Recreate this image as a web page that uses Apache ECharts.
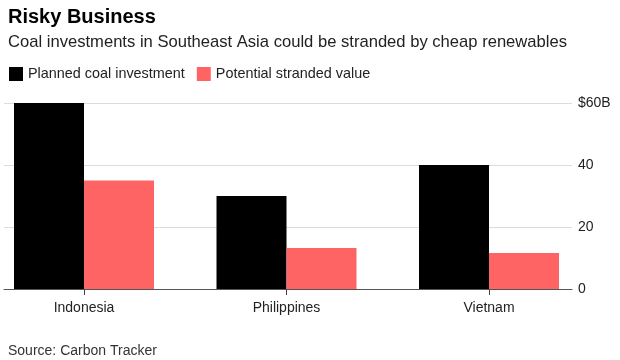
<!DOCTYPE html>
<html><head><meta charset="utf-8">
<script src="https://cdn.jsdelivr.net/npm/echarts@6/dist/echarts.min.js"></script>
<style>html,body{margin:0;padding:0;background:#fff}#c{width:620px;height:360px}</style>
</head><body><div id="c"></div>
<script>
const categories = ['Indonesia', 'Philippines', 'Vietnam'];
const plannedCoal = [60, 30, 40];
const strandedValue = [35, 13.2, 11.6];
const seriesNames = ['Planned coal investment', 'Potential stranded value'];
const yTicks = [0, 20, 40, 60];

const chart = echarts.init(document.getElementById('c'), null, {renderer: 'canvas'});
const font = '"Liberation Sans", Arial, sans-serif';
chart.setOption({
  animation: false,
  textStyle: {fontFamily: font},
  title: [
    {text: 'Risky Business', left: 3, top: 2, textStyle: {fontSize: 20, fontWeight: 'bold', color: '#000', fontFamily: font}},
    {text: 'Coal investments in Southeast Asia could be stranded by cheap renewables', left: 3, top: 29, textStyle: {fontSize: 16.6, fontWeight: 'normal', color: '#222', fontFamily: font}},
    {text: 'Source: Carbon Tracker', left: 3, top: 339, textStyle: {fontSize: 14, fontWeight: 'normal', color: '#333', fontFamily: font}}
  ],
  legend: {
    left: 4, top: 62, itemWidth: 14, itemHeight: 14, itemGap: 12, icon: 'rect',
    textStyle: {fontSize: 14.4, color: '#222', fontFamily: font},
    data: seriesNames
  },
  grid: [
    {left: 4, right: 48, top: 103, bottom: 71},
    {left: 84, right: 131, top: 103, bottom: 71}
  ],
  xAxis: [
    {type: 'category', gridIndex: 0, data: categories, axisLabel: {show: false}, axisTick: {show: false},
     axisLine: {lineStyle: {color: '#555', width: 1}}},
    {type: 'category', gridIndex: 1, data: categories, boundaryGap: false,
     axisLine: {show: false}, axisTick: {show: true, length: 6, lineStyle: {color: '#444'}},
     axisLabel: {fontSize: 14, color: '#222', margin: 12, fontFamily: font}}
  ],
  yAxis: [
    {type: 'value', gridIndex: 0, position: 'right', min: 0, max: 60, interval: 20,
     axisLine: {show: false}, axisTick: {show: false},
     splitLine: {lineStyle: {color: '#dcdcdc'}},
     axisLabel: {fontSize: 14, color: '#222', margin: 6, fontFamily: font,
       formatter: v => v === yTicks[yTicks.length - 1] ? '$' + v + 'B' : String(v)}},
    {type: 'value', gridIndex: 1, min: 0, max: 60, show: false}
  ],
  series: [
    {name: seriesNames[0], type: 'bar', xAxisIndex: 1, yAxisIndex: 1, data: plannedCoal,
     barWidth: 70, barGap: '0%', clip: false, itemStyle: {color: '#000'}},
    {name: seriesNames[1], type: 'bar', xAxisIndex: 1, yAxisIndex: 1, data: strandedValue,
     barWidth: 70, barGap: '0%', clip: false, itemStyle: {color: '#ff6464'}}
  ]
});
</script></body></html>
